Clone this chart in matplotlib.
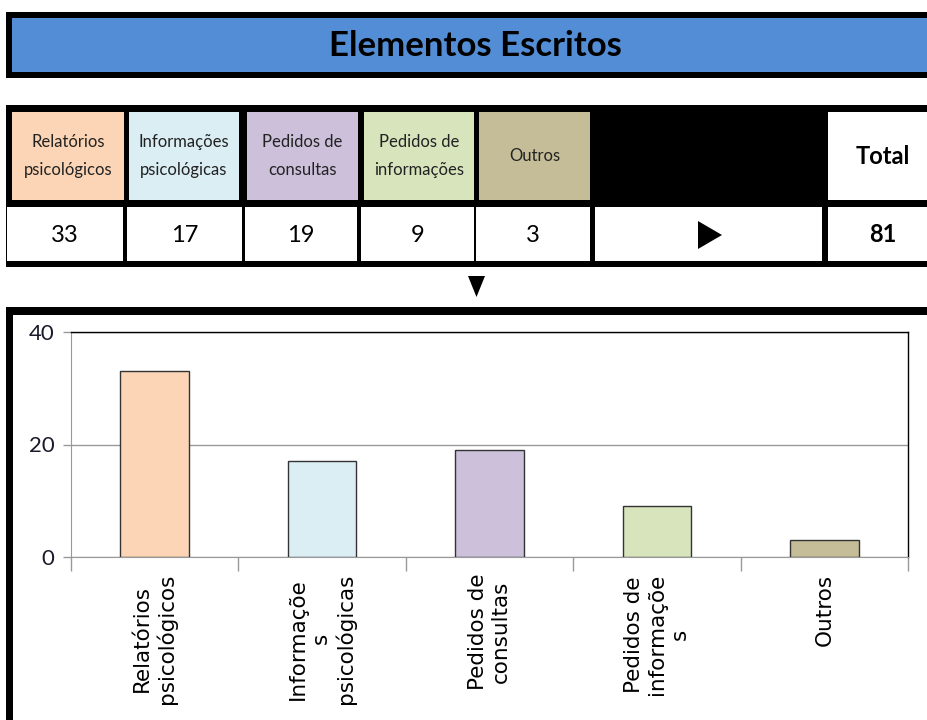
import matplotlib
matplotlib.use("Agg")
import matplotlib.pyplot as plt
from matplotlib.patches import Rectangle, Polygon

# ---- data ----
title = "Elementos Escritos"
categories = ["Relatórios\npsicológicos", "Informações\npsicológicas", "Pedidos de\nconsultas",
              "Pedidos de\ninformações", "Outros"]
axis_labels = ["Relatórios\npsicológicos", "Informaçõe\ns\npsicológicas", "Pedidos de\nconsultas",
               "Pedidos de\ninformaçõe\ns", "Outros"]
values = [33, 17, 19, 9, 3]
total = 81
colors = ["#FBD5B5", "#DBEEF3", "#CCC0DA", "#D7E4BC", "#C4BD97"]
yticks = [0, 20, 40]

NARROW = ["Liberation Sans Narrow", "Lato", "DejaVu Sans"]

W, H = 928, 720
fig = plt.figure(figsize=(W / 100, H / 100), dpi=100)
bg = fig.add_axes([0, 0, 1, 1])
bg.set_xlim(0, W)
bg.set_ylim(H, 0)
bg.axis("off")

def rect(x0, y0, x1, y1, fc, ec="none", lw=0, z=1):
    bg.add_patch(Rectangle((x0, y0), x1 - x0, y1 - y0, facecolor=fc, edgecolor=ec, lw=lw, zorder=z))

# title banner
rect(6, 12, 935, 78, "black")
rect(12, 18, 935, 72, "#538DD5", z=2)
bg.text(475, 46, title, ha="center", va="center", fontsize=25, fontweight="bold",
        family=NARROW, color="black", zorder=3)

# table block
rect(6, 105, 935, 267, "black")
hdr = [(12, 124), (129, 239), (247, 358), (364, 474), (479, 590)]
for (x0, x1), c, lab in zip(hdr, colors, categories):
    rect(x0, 112, x1, 200, c, z=2)
    bg.text((x0 + x1) / 2, 156, lab, ha="center", va="center", fontsize=12,
            family=NARROW, color="#222222", linespacing=1.85, zorder=3)
rect(828, 112, 935, 200, "white", z=2)
bg.text(883, 157, "Total", ha="center", va="center", fontsize=17, fontweight="bold",
        family=NARROW, color="black", zorder=3)

vals_cells = [(7, 123), (127, 242), (245, 357), (361, 474), (476, 590)]
for (x0, x1), v in zip(vals_cells, values):
    rect(x0, 207, x1, 261, "white", z=2)
    bg.text((x0 + x1) / 2, 235, str(v), ha="center", va="center", fontsize=17,
            family=NARROW, color="black", zorder=3)
rect(595, 207, 822, 261, "white", z=2)
bg.add_patch(Polygon([[698, 221], [698, 249], [722, 235]], closed=True, fc="black", ec="none", zorder=3))
rect(828, 207, 935, 261, "white", z=2)
bg.text(883, 235, str(total), ha="center", va="center", fontsize=17, fontweight="bold",
        family=NARROW, color="black", zorder=3)

# down arrow
bg.add_patch(Polygon([[468, 276], [485, 276], [476.5, 297]], closed=True, fc="black", ec="none", zorder=3))

# chart box border
rect(6, 307, 935, 315, "black")
rect(6, 307, 13, 725, "black")

# bar chart
ax = fig.add_axes([71 / W, (H - 557) / H, (908 - 71) / W, (557 - 332) / H])
x = list(range(len(values)))
ax.bar(x, values, width=0.41, color=colors, edgecolor="#333333", linewidth=1.0, zorder=3)
ax.set_xlim(-0.5, len(values) - 0.5)
ax.set_ylim(0, 40)
ax.set_yticks(yticks)
ax.set_yticklabels([str(t) for t in yticks], family=NARROW, fontsize=16, color="#1a1a2a")
ax.yaxis.grid(True, color="#999999", lw=1.0, zorder=0)
ax.set_xticks(x)
ax.set_xticklabels(axis_labels, rotation=90, ha="center", va="top", multialignment="center",
                   fontsize=15.5, family="DejaVu Sans", color="black", linespacing=1.2)
ax.set_xticks([i - 0.5 for i in range(len(values) + 1)], minor=True)
ax.tick_params(axis="x", which="major", length=0, pad=12)
ax.tick_params(axis="x", which="minor", length=10, color="#999999", width=1)
ax.tick_params(axis="y", which="major", length=6, color="#999999", width=1, pad=6)
for s in ["left", "bottom"]:
    ax.spines[s].set_color("#999999")
for s in ["top", "right"]:
    ax.spines[s].set_color("black")
    ax.spines[s].set_linewidth(1.0)

fig.savefig("out.png", dpi=100)
